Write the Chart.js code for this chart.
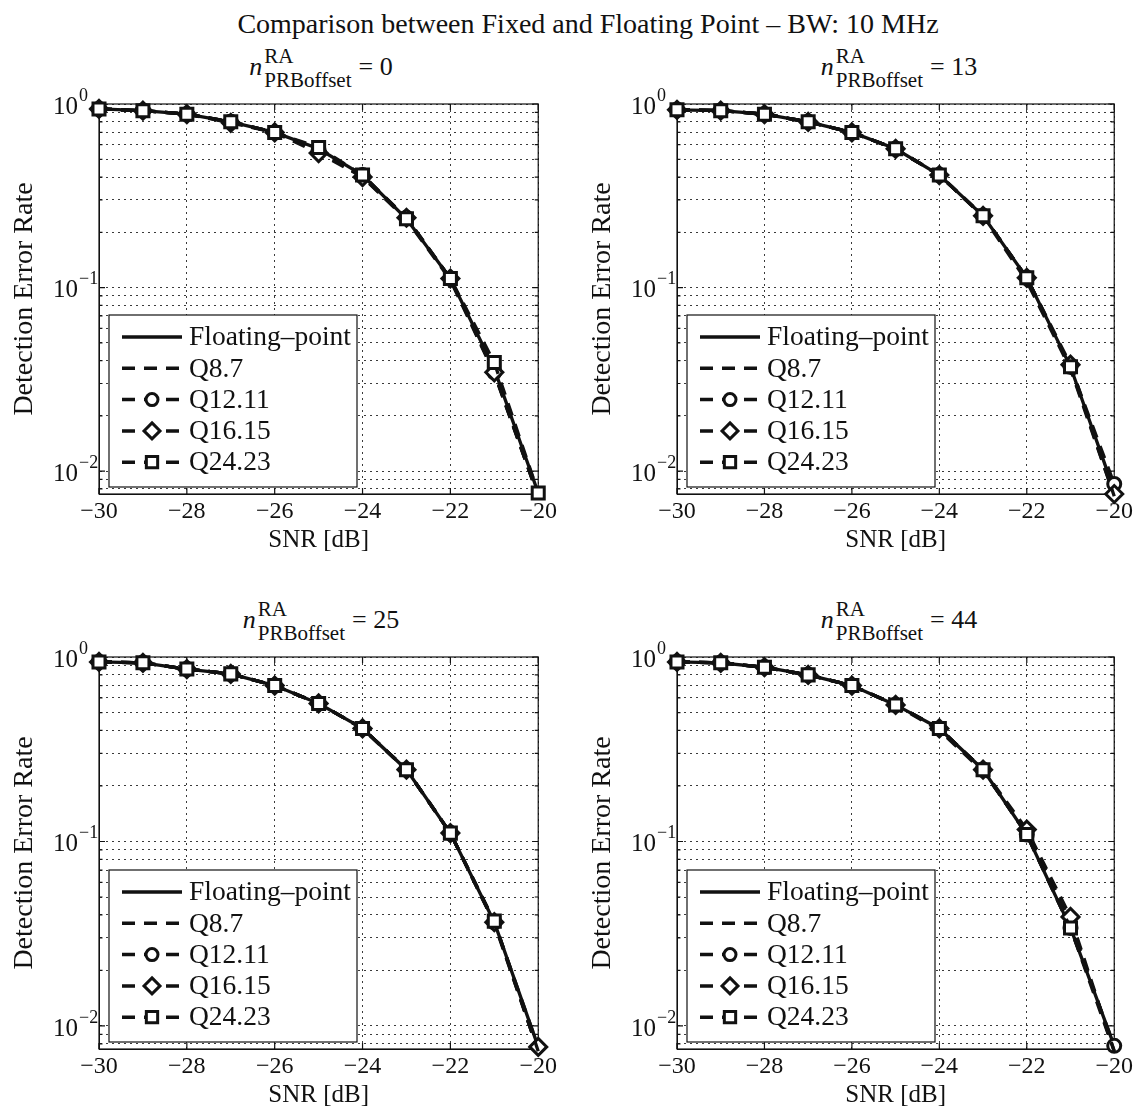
<!DOCTYPE html>
<html>
<head>
<meta charset="utf-8">
<script src="https://cdn.jsdelivr.net/npm/chart.js@4.4.1/dist/chart.umd.min.js"></script>
<style>
  html, body { margin: 0; padding: 0; background: #fff; overflow: hidden; width: 1135px; height: 1110px; }
  #wrap { position: relative; width: 1135px; height: 1110px; font-family: "Liberation Serif", "Times New Roman", serif; color: #111; }
  .cv { position: absolute; }
  #title { position: absolute; left: 588px; top: 7px; transform: translateX(-50%); white-space: nowrap; font-size: 28px; line-height: 34px; }
  .st { position: absolute; display: flex; align-items: flex-start; transform: translateX(-50%); white-space: nowrap; }
  .st .n { font-style: italic; font-size: 26px; line-height: 30px; margin-top: 8px; }
  .st .ss { display: flex; flex-direction: column; font-size: 21px; line-height: 24px; margin-left: 2px; }
  .st .eq { font-size: 26px; line-height: 30px; margin-top: 8px; margin-left: 7px; }
</style>
</head>
<body>
<div id="wrap">
  <div id="title">Comparison between Fixed and Floating Point – BW: 10 MHz</div>
  <div class="st" style="left:321px; top:44px;"><span class="n">n</span><span class="ss"><span>RA</span><span>PRBoffset</span></span><span class="eq">= 0</span></div>
  <div class="st" style="left:899px; top:44px;"><span class="n">n</span><span class="ss"><span>RA</span><span>PRBoffset</span></span><span class="eq">= 13</span></div>
  <div class="st" style="left:321px; top:597px;"><span class="n">n</span><span class="ss"><span>RA</span><span>PRBoffset</span></span><span class="eq">= 25</span></div>
  <div class="st" style="left:899px; top:597px;"><span class="n">n</span><span class="ss"><span>RA</span><span>PRBoffset</span></span><span class="eq">= 44</span></div>
  <canvas id="c0" class="cv" width="560" height="500" style="left:0px; top:60px;"></canvas>
  <canvas id="c1" class="cv" width="558" height="500" style="left:578px; top:60px;"></canvas>
  <canvas id="c2" class="cv" width="560" height="502" style="left:0px; top:613px;"></canvas>
  <canvas id="c3" class="cv" width="558" height="502" style="left:578px; top:613px;"></canvas>
</div>
<script>
// ---------------- data ----------------
const SNR = [-30, -29, -28, -27, -26, -25, -24, -23, -22, -21, -20];
const X_TICKS = [-30, -28, -26, -24, -22, -20];
const Y_TICKS = [0.008, 0.009, 0.01, 0.02, 0.03, 0.04, 0.05, 0.06, 0.07, 0.08, 0.09,
                 0.1, 0.2, 0.3, 0.4, 0.5, 0.6, 0.7, 0.8, 0.9, 1];
const Y_MAJOR = [0.01, 0.1, 1];
const Y_MAJOR_BASE = '10';
const Y_MAJOR_EXP = ['\u22122', '\u22121', '0'];
const Y_MIN = 0.0075;
const Y_MAX = 1;
const SERIES_NAMES = ['Floating\u2013point', 'Q8.7', 'Q12.11', 'Q16.15', 'Q24.23'];
const X_TITLE = 'SNR [dB]';
const Y_TITLE = 'Detection Error Rate';

// n_PRBoffset = 0
const float_0 = [0.94, 0.92, 0.88, 0.80, 0.70, 0.57, 0.41, 0.237, 0.112, 0.036, 0.0076];
const q87_0   = [0.94, 0.92, 0.88, 0.80, 0.70, 0.56, 0.40, 0.235, 0.110, 0.034, 0.0073];
const q1211_0 = [0.94, 0.92, 0.88, 0.80, 0.70, 0.56, 0.41, 0.240, 0.112, 0.0345, 0.0073];
const q1615_0 = [0.94, 0.92, 0.88, 0.79, 0.70, 0.54, 0.40, 0.240, 0.112, 0.0345, 0.0073];
const q2423_0 = [0.94, 0.92, 0.88, 0.80, 0.70, 0.58, 0.41, 0.237, 0.112, 0.039, 0.0076];

// n_PRBoffset = 13
const float_13 = [0.93, 0.92, 0.88, 0.80, 0.70, 0.57, 0.41, 0.246, 0.113, 0.037, 0.0078];
const q87_13   = [0.93, 0.92, 0.88, 0.80, 0.70, 0.57, 0.41, 0.244, 0.108, 0.036, 0.0073];
const q1211_13 = [0.93, 0.92, 0.88, 0.80, 0.70, 0.57, 0.41, 0.246, 0.113, 0.037, 0.0085];
const q1615_13 = [0.93, 0.92, 0.88, 0.80, 0.70, 0.57, 0.41, 0.246, 0.113, 0.038, 0.0075];
const q2423_13 = [0.93, 0.92, 0.88, 0.80, 0.70, 0.57, 0.41, 0.246, 0.113, 0.037, 0.0073];

// n_PRBoffset = 25
const float_25 = [0.94, 0.93, 0.86, 0.81, 0.70, 0.56, 0.41, 0.245, 0.111, 0.0365, 0.0077];
const q87_25   = [0.94, 0.93, 0.86, 0.81, 0.70, 0.56, 0.41, 0.245, 0.111, 0.036, 0.0073];
const q1211_25 = [0.94, 0.93, 0.86, 0.81, 0.70, 0.56, 0.41, 0.245, 0.111, 0.0365, 0.0073];
const q1615_25 = [0.94, 0.93, 0.86, 0.81, 0.70, 0.56, 0.41, 0.245, 0.111, 0.0365, 0.0077];
const q2423_25 = [0.94, 0.93, 0.86, 0.81, 0.70, 0.56, 0.41, 0.245, 0.111, 0.037, 0.0073];

// n_PRBoffset = 44
const float_44 = [0.94, 0.93, 0.88, 0.80, 0.70, 0.55, 0.41, 0.245, 0.109, 0.034, 0.0078];
const q87_44   = [0.94, 0.93, 0.88, 0.80, 0.70, 0.55, 0.40, 0.240, 0.112, 0.037, 0.0073];
const q1211_44 = [0.94, 0.93, 0.88, 0.80, 0.70, 0.55, 0.41, 0.245, 0.109, 0.034, 0.0078];
const q1615_44 = [0.94, 0.93, 0.88, 0.80, 0.70, 0.55, 0.41, 0.245, 0.116, 0.039, 0.0073];
const q2423_44 = [0.94, 0.93, 0.88, 0.80, 0.70, 0.55, 0.41, 0.245, 0.109, 0.034, 0.0073];

const PANELS = [
  { id: 'c0', series: [float_0, q87_0, q1211_0, q1615_0, q2423_0], padRight: 21 },
  { id: 'c1', series: [float_13, q87_13, q1211_13, q1615_13, q2423_13], padRight: 19 },
  { id: 'c2', series: [float_25, q87_25, q1211_25, q1615_25, q2423_25], padRight: 21 },
  { id: 'c3', series: [float_44, q87_44, q1211_44, q1615_44, q2423_44], padRight: 19 }
];

// ---------------- styles ----------------
const FONT = '"Liberation Serif", "Times New Roman", serif';
const INK = '#111';
const DASH = [13, 9];
const STYLES = [
  { dash: [], marker: null, r: 0 },
  { dash: DASH, marker: null, r: 0 },
  { dash: DASH, marker: 'circle', r: 6.5 },
  { dash: DASH, marker: 'rectRot', r: 8.5 },
  { dash: DASH, marker: 'rect', r: 8.5 }
];
const LEGEND_R = { circle: 6, rectRot: 8, rect: 8 };

function drawMarker(ctx, style, r, x, y) {
  ctx.beginPath();
  if (style === 'circle') {
    ctx.arc(x, y, r, 0, Math.PI * 2);
  } else if (style === 'rectRot') {
    ctx.moveTo(x, y - r); ctx.lineTo(x + r, y); ctx.lineTo(x, y + r); ctx.lineTo(x - r, y); ctx.closePath();
  } else if (style === 'rect') {
    const s = r * Math.SQRT1_2;
    ctx.rect(x - s, y - s, 2 * s, 2 * s);
  }
  ctx.fill();
  ctx.stroke();
}

const framePlugin = {
  id: 'matlabFrame',
  afterDraw(chart) {},
  beforeDatasetsDraw(chart) {
    const a = chart.chartArea, ctx = chart.ctx;
    const xs = chart.scales.x, ys = chart.scales.y;
    ctx.save();
    ctx.strokeStyle = INK;
    ctx.lineWidth = 1.2;
    ctx.strokeRect(a.left, a.top, a.right - a.left, a.bottom - a.top);
    ctx.beginPath();
    X_TICKS.forEach(v => {
      const px = xs.getPixelForValue(v);
      ctx.moveTo(px, a.bottom); ctx.lineTo(px, a.bottom - 6);
      ctx.moveTo(px, a.top); ctx.lineTo(px, a.top + 6);
    });
    Y_TICKS.forEach(v => {
      const py = ys.getPixelForValue(v);
      const len = Y_MAJOR.includes(v) ? 6 : 3.5;
      ctx.moveTo(a.left, py); ctx.lineTo(a.left + len, py);
      ctx.moveTo(a.right, py); ctx.lineTo(a.right - len, py);
    });
    ctx.stroke();
    // exponents of the 10^k tick labels
    ctx.fillStyle = INK;
    ctx.font = '18px ' + FONT;
    ctx.textAlign = 'left';
    ctx.textBaseline = 'middle';
    Y_MAJOR.forEach((v, k) => {
      const py = ys.getPixelForValue(v);
      ctx.fillText(Y_MAJOR_EXP[k], a.left - 20, py - 8);
    });
    ctx.restore();
  },
  afterDatasetsDraw(chart) {
    const a = chart.chartArea, ctx = chart.ctx;
    const bw = 248, bh = 172;
    const bx = a.left + 10, by = a.bottom - 7 - bh;
    ctx.save();
    ctx.fillStyle = '#fff';
    ctx.fillRect(bx, by, bw, bh);
    ctx.strokeStyle = INK;
    ctx.lineWidth = 1.2;
    ctx.strokeRect(bx, by, bw, bh);
    chart.data.datasets.forEach((ds, i) => {
      const st = STYLES[i];
      const cy = by + 22 + i * 31.3;
      ctx.strokeStyle = INK;
      ctx.lineWidth = 3.5;
      ctx.setLineDash(st.dash);
      ctx.beginPath();
      ctx.moveTo(bx + 13, cy);
      ctx.lineTo(bx + 73, cy);
      ctx.stroke();
      ctx.setLineDash([]);
      if (st.marker) {
        ctx.fillStyle = '#fff';
        ctx.lineWidth = 3;
        drawMarker(ctx, st.marker, LEGEND_R[st.marker], bx + 43, cy);
      }
      ctx.fillStyle = INK;
      ctx.font = '27.5px ' + FONT;
      ctx.textAlign = 'left';
      ctx.textBaseline = 'middle';
      ctx.fillText(ds.label, bx + 80, cy + 1);
    });
    ctx.restore();
  }
};

function fmtX(v) {
  return (v < 0 ? '\u2212' : '') + Math.abs(v);
}
function fmtY(v) {
  const k = Y_MAJOR.findIndex(m => Math.abs(m - v) < 1e-9);
  return k >= 0 ? Y_MAJOR_BASE : '';
}

function makeChart(panel) {
  const datasets = panel.series.map((vals, k) => {
    const st = STYLES[k];
    return {
      label: SERIES_NAMES[k],
      data: SNR.map((x, i) => ({ x: x, y: vals[i] })),
      borderColor: INK,
      borderWidth: 3.3,
      borderDash: st.dash,
      tension: 0,
      fill: false,
      clip: false,
      order: 4 - k,
      pointStyle: st.marker || 'circle',
      pointRadius: st.marker ? (c => (c.raw && c.raw.y < Y_MIN ? 0 : st.r)) : 0,
      pointHoverRadius: st.marker ? st.r : 0,
      pointBorderWidth: 3,
      pointBorderColor: INK,
      pointBackgroundColor: '#fff'
    };
  });
  return new Chart(document.getElementById(panel.id), {
    type: 'line',
    data: { datasets },
    options: {
      responsive: false,
      animation: false,
      devicePixelRatio: 1,
      layout: { padding: { top: 44, right: panel.padRight, left: 0, bottom: 0 } },
      plugins: { legend: { display: false }, title: { display: false }, tooltip: { enabled: false } },
      events: [],
      scales: {
        x: {
          type: 'linear',
          min: -30, max: -20,
          afterBuildTicks: s => { s.ticks = X_TICKS.map(v => ({ value: v })); },
          afterFit: s => { s.height = 66; },
          ticks: { callback: v => fmtX(v), autoSkip: false, maxRotation: 0, padding: 3,
                   color: INK, font: { family: FONT, size: 24 } },
          grid: { color: '#3a3a3a', lineWidth: 1, drawTicks: false },
          border: { display: true, color: INK, width: 1, dash: [2, 4] },
          title: { display: true, text: X_TITLE, color: INK, font: { family: FONT, size: 25 },
                   padding: { top: 0, bottom: 5 } }
        },
        y: {
          type: 'logarithmic',
          min: Y_MIN, max: Y_MAX,
          afterBuildTicks: s => { s.ticks = Y_TICKS.map(v => ({ value: v })); },
          afterFit: s => { s.width = 99; },
          ticks: { callback: v => fmtY(v), autoSkip: false, padding: 21, labelOffset: 3,
                   color: INK, font: { family: FONT, size: 25 } },
          grid: { color: '#3a3a3a', lineWidth: 1, drawTicks: false },
          border: { display: true, color: INK, width: 1, dash: [2, 4] },
          title: { display: true, text: Y_TITLE, color: INK, font: { family: FONT, size: 28 },
                   padding: { top: 8, bottom: 0 } }
        }
      }
    },
    plugins: [framePlugin]
  });
}

PANELS.forEach(makeChart);
</script>
</body>
</html>
